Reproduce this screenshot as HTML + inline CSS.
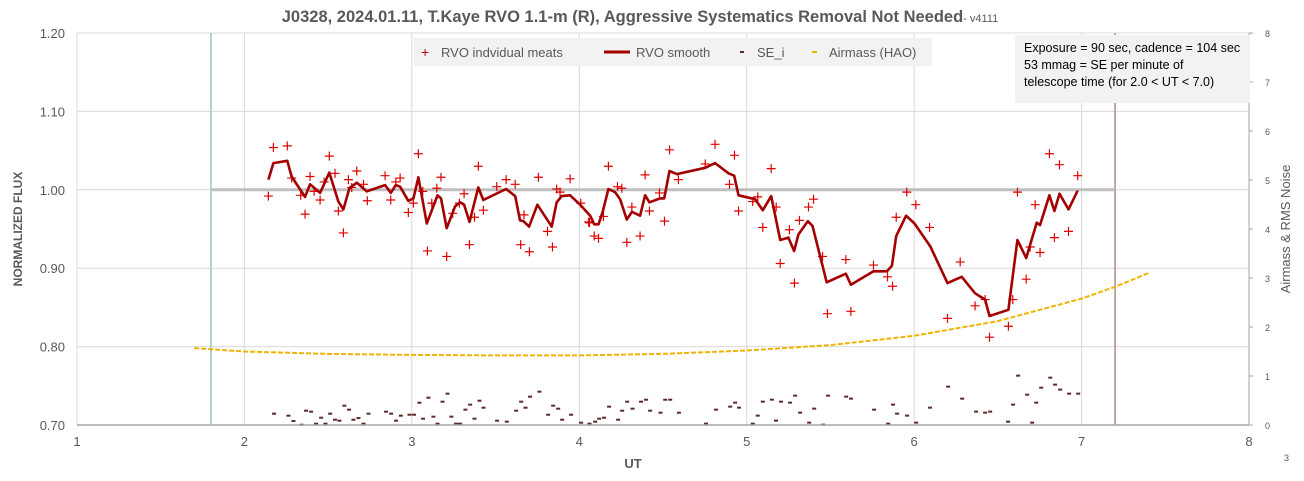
<!DOCTYPE html>
<html><head><meta charset="utf-8"><style>
body{margin:0;background:#fff;font-family:"Liberation Sans",sans-serif;}
svg text{font-family:"Liberation Sans",sans-serif;}
</style></head><body>
<svg id="chart" width="1304" height="476" viewBox="0 0 1304 476" xmlns="http://www.w3.org/2000/svg">
<rect x="0" y="0" width="1304" height="476" fill="#fff"/>
<text x="640" y="22" text-anchor="middle" font-size="16.5" font-weight="bold" fill="#595959">J0328, 2024.01.11, T.Kaye RVO 1.1-m (R), Aggressive Systematics Removal Not Needed<tspan font-size="11" font-weight="normal">- v4111</tspan></text>
<g id="grid"></g>
<g id="refs"></g>
<g id="series"></g>
<g id="axes"></g>
<text transform="translate(22,229) rotate(-90)" text-anchor="middle" font-size="12" font-weight="bold" fill="#595959">NORMALIZED FLUX</text>
<text transform="translate(1290,229) rotate(-90)" text-anchor="middle" font-size="13" fill="#595959">Airmass &amp; RMS Noise</text>
<text x="633" y="468" text-anchor="middle" font-size="13" font-weight="bold" fill="#595959">UT</text>
<text x="1284" y="461" font-size="9" fill="#595959">3</text>
<g>
<rect x="414" y="38" width="518" height="28" fill="#f2f2f2"/>
<g><text x="421" y="57" font-size="14" fill="#c00000">+</text><text x="441" y="57" font-size="13" fill="#595959">RVO indvidual meats</text></g>
<g><line x1="604" y1="52" x2="630" y2="52" stroke="#a50000" stroke-width="3"/><text x="636" y="57" font-size="13" fill="#595959">RVO smooth</text></g>
<g><rect x="740" y="51" width="4" height="2" fill="#5a2a2a"/><text x="757" y="57" font-size="13" fill="#595959">SE_i</text></g>
<g><rect x="812" y="51" width="5" height="2" fill="#f0b400"/><text x="829" y="57" font-size="13" fill="#595959">Airmass (HAO)</text></g>
</g>
<g>
<rect x="1015" y="35" width="235" height="68" fill="#f2f2f2"/>
<text x="1024" y="52" font-size="12.5" fill="#000">Exposure = 90 sec, cadence = 104 sec</text>
<text x="1024" y="69" font-size="12.5" fill="#000">53 mmag = SE per minute of</text>
<text x="1024" y="86" font-size="12.5" fill="#000">telescope time  (for 2.0 &lt; UT &lt; 7.0)</text>
</g>
</svg>
<script>
const measUT=[2.143,2.173,2.256,2.282,2.336,2.362,2.392,2.416,2.452,2.476,2.507,2.541,2.561,2.591,2.621,2.641,2.671,2.711,2.734,2.840,2.874,2.904,2.930,2.979,3.009,3.039,3.065,3.093,3.119,3.149,3.174,3.208,3.244,3.284,3.312,3.344,3.374,3.397,3.427,3.507,3.563,3.617,3.650,3.670,3.702,3.756,3.810,3.840,3.865,3.885,3.945,4.009,4.055,4.061,4.089,4.115,4.144,4.174,4.228,4.254,4.284,4.314,4.363,4.393,4.419,4.479,4.509,4.539,4.592,4.752,4.811,4.897,4.927,4.951,5.036,5.066,5.096,5.146,5.176,5.200,5.255,5.285,5.315,5.369,5.399,5.453,5.482,5.592,5.622,5.757,5.841,5.871,5.893,5.956,6.010,6.092,6.199,6.275,6.364,6.424,6.450,6.563,6.589,6.617,6.669,6.693,6.723,6.752,6.808,6.838,6.868,6.922,6.977];
const measFlux=[0.992,1.054,1.056,1.015,0.993,0.969,1.017,0.998,0.987,1.010,1.043,1.021,0.973,0.945,1.013,1.003,1.024,1.007,0.986,1.018,0.987,1.010,1.015,0.971,0.983,1.046,0.998,0.922,0.983,1.002,1.016,0.915,0.970,0.983,0.995,0.930,0.965,1.030,0.974,1.004,1.013,1.007,0.930,0.968,0.921,1.016,0.947,0.927,1.001,0.997,1.014,0.983,0.959,0.958,0.941,0.938,0.966,1.030,1.004,1.002,0.933,0.978,0.941,1.019,0.973,0.996,0.960,1.051,1.013,1.033,1.058,1.007,1.044,0.973,0.985,0.991,0.952,1.027,0.978,0.906,0.949,0.881,0.961,0.978,0.988,0.915,0.842,0.911,0.845,0.904,0.889,0.877,0.965,0.997,0.981,0.952,0.836,0.908,0.852,0.860,0.812,0.826,0.860,0.997,0.886,0.927,0.981,0.920,1.046,0.939,1.032,0.947,1.018];
const smoothUT=[2.143,2.173,2.256,2.282,2.362,2.392,2.452,2.507,2.561,2.591,2.627,2.671,2.730,2.840,2.874,2.904,2.930,2.979,3.009,3.039,3.089,3.153,3.174,3.208,3.258,3.288,3.312,3.344,3.397,3.427,3.563,3.617,3.646,3.666,3.700,3.750,3.835,3.865,3.895,3.945,4.005,4.065,4.089,4.115,4.140,4.174,4.214,4.244,4.284,4.314,4.363,4.393,4.419,4.483,4.507,4.539,4.582,4.752,4.811,4.891,4.925,4.951,5.050,5.096,5.146,5.200,5.249,5.283,5.309,5.365,5.393,5.478,5.592,5.622,5.757,5.837,5.867,5.893,5.952,6.002,6.096,6.199,6.284,6.364,6.424,6.450,6.563,6.617,6.669,6.732,6.752,6.808,6.838,6.868,6.922,6.977];
const smoothFlux=[1.013,1.034,1.037,1.017,0.991,1.007,0.996,1.022,0.985,0.975,1.002,1.009,0.998,1.006,0.996,1.006,1.004,0.986,0.989,1.016,0.957,0.993,0.989,0.951,0.979,0.984,0.981,0.959,1.003,0.987,1.001,0.992,0.961,0.960,0.953,0.981,0.953,0.984,0.992,0.993,0.981,0.967,0.956,0.956,0.972,1.001,0.997,0.988,0.962,0.972,0.967,0.993,0.984,0.989,0.989,1.024,1.020,1.028,1.034,1.021,1.018,0.993,0.988,0.974,0.992,0.936,0.939,0.922,0.943,0.960,0.954,0.882,0.893,0.879,0.896,0.896,0.903,0.941,0.967,0.957,0.928,0.881,0.889,0.868,0.860,0.839,0.847,0.936,0.913,0.958,0.955,0.993,0.973,0.995,0.975,0.999];
const seUT=[2.177,2.263,2.293,2.342,2.368,2.398,2.428,2.458,2.484,2.512,2.541,2.567,2.597,2.625,2.651,2.681,2.711,2.741,2.846,2.876,2.906,2.934,2.986,3.013,3.045,3.067,3.099,3.129,3.153,3.183,3.213,3.236,3.264,3.288,3.320,3.348,3.374,3.404,3.428,3.509,3.567,3.623,3.653,3.679,3.706,3.762,3.814,3.844,3.874,3.898,3.951,4.011,4.061,4.095,4.119,4.148,4.178,4.232,4.256,4.286,4.318,4.369,4.399,4.423,4.485,4.513,4.543,4.595,4.757,4.817,4.901,4.931,4.954,5.036,5.066,5.096,5.150,5.175,5.205,5.259,5.289,5.319,5.373,5.403,5.456,5.486,5.594,5.623,5.761,5.845,5.874,5.898,5.958,6.012,6.095,6.203,6.287,6.370,6.424,6.454,6.561,6.591,6.621,6.675,6.705,6.729,6.759,6.813,6.842,6.872,6.926,6.980];
const seVal=[0.231,0.190,0.081,0.006,0.292,0.272,0.027,0.149,0.027,0.231,0.108,0.088,0.394,0.313,0.108,0.142,0.027,0.231,0.272,0.231,0.088,0.190,0.210,0.210,0.455,0.129,0.557,0.170,0.027,0.476,0.639,0.170,0.027,0.027,0.313,0.415,0.129,0.496,0.353,0.088,0.068,0.292,0.476,0.353,0.578,0.680,0.210,0.394,0.333,0.108,0.210,0.047,0.027,0.068,0.129,0.149,0.374,0.108,0.292,0.476,0.333,0.476,0.516,0.292,0.251,0.516,0.516,0.251,0.028,0.313,0.375,0.456,0.354,0.028,0.191,0.477,0.517,0.089,0.477,0.456,0.599,0.252,0.048,0.334,0.007,0.599,0.579,0.538,0.313,0.028,0.415,0.232,0.191,0.048,0.354,0.783,0.538,0.273,0.252,0.273,0.068,0.415,1.007,0.619,0.048,0.456,0.762,0.966,0.824,0.722,0.640,0.640];
const airUT=[1.7,2.0,2.5,3.0,3.5,4.0,4.5,5.0,5.5,6.0,6.5,7.0,7.2,7.4];
const airVal=[1.57,1.50,1.45,1.43,1.42,1.42,1.45,1.52,1.63,1.82,2.12,2.58,2.82,3.10];
const xTicks=["1","2","3","4","5","6","7","8"];
const yTicks=["0.70","0.80","0.90","1.00","1.10","1.20"];
const y2Ticks=["0","1","2","3","4","5","6","7","8"];
const refFlux=[1.00];
const startUT=[1.8];
const endUT=[7.2];

const NS="http://www.w3.org/2000/svg";
const X0=77,X1=1249,Y0=425,Y1=33;
const xs=u=>X0+(u-1)/7*(X1-X0);
const ys=f=>Y0-(f-0.7)/0.5*(Y0-Y1);
const y2s=v=>Y0-v/8*(Y0-Y1);
function mk(tag,attrs,parent){const e=document.createElementNS(NS,tag);for(const k in attrs)e.setAttribute(k,attrs[k]);parent.appendChild(e);return e;}
const grid=document.getElementById('grid'),axes=document.getElementById('axes'),series=document.getElementById('series'),refs=document.getElementById('refs');

xTicks.forEach(t=>{const x=xs(+t);
 const g=mk('line',{x1:x,y1:Y1,x2:x,y2:Y0,stroke:'#d9d9d9','stroke-width':1},grid);
 
 
 const tx=mk('text',{x:x,y:446,'text-anchor':'middle','font-size':13,fill:'#595959'},axes);tx.textContent=t;
 
 
});
yTicks.forEach(t=>{const y=ys(+t);
 const g=mk('line',{x1:X0,y1:y,x2:X1,y2:y,stroke:'#d9d9d9','stroke-width':1},grid);
 
 
 const tx=mk('text',{x:65,y:y+5,'text-anchor':'end','font-size':13,fill:'#595959'},axes);tx.textContent=t;
 
 
});
y2Ticks.forEach(t=>{const y=y2s(+t);
 const l=mk('line',{x1:X1,y1:y,x2:X1+4,y2:y,stroke:'#a6a6a6'},axes);
 
 
 const tx=mk('text',{x:1265,y:y+4,'text-anchor':'start','font-size':9,fill:'#595959'},axes);tx.textContent=t;
 
 
});
const ax=mk('line',{x1:X0,y1:Y0,x2:X1,y2:Y0,stroke:'#a6a6a6','stroke-width':1.5},axes);


const ax2=mk('line',{x1:X1,y1:Y1,x2:X1,y2:Y0,stroke:'#a6a6a6','stroke-width':1},axes);



startUT.forEach(u=>{const l=mk('line',{x1:xs(u),y1:Y1,x2:xs(u),y2:Y0,stroke:'#a9d8c4','stroke-width':2},refs);
 
 });
endUT.forEach(u=>{const l=mk('line',{x1:xs(u),y1:Y1,x2:xs(u),y2:Y0,stroke:'#b08a8a','stroke-width':1.5},refs);
 
 });
refFlux.forEach(f=>{const l=mk('line',{x1:xs(startUT[0]),y1:ys(f),x2:xs(endUT[0]),y2:ys(f),stroke:'#bfbfbf','stroke-width':3},refs);
 
 });

const ad=airUT.map((u,i)=>(i?'L':'M')+xs(u).toFixed(1)+','+y2s(airVal[i]).toFixed(1)).join(' ');
const ap=mk('path',{d:ad,fill:'none',stroke:'#f0b400','stroke-width':2,'stroke-dasharray':'5 2'},series);



seUT.forEach((u,i)=>{const r=mk('rect',{x:xs(u)-2,y:y2s(seVal[i])-1,width:4,height:2,fill:'#5a2a2a'},series);
 
 });

measUT.forEach((u,i)=>{const x=xs(u),y=ys(measFlux[i]);
 const p=mk('path',{d:`M${x-4.5},${y}H${x+4.5}M${x},${y-4.5}V${y+4.5}`,stroke:'#e00000','stroke-width':1.2},series);
 
 });

const sd=smoothUT.map((u,i)=>(i?'L':'M')+xs(u).toFixed(1)+','+ys(smoothFlux[i]).toFixed(1)).join(' ');
const sp=mk('path',{d:sd,fill:'none',stroke:'#a50000','stroke-width':2.6,'stroke-linejoin':'round'},series);


</script>
</body></html>
